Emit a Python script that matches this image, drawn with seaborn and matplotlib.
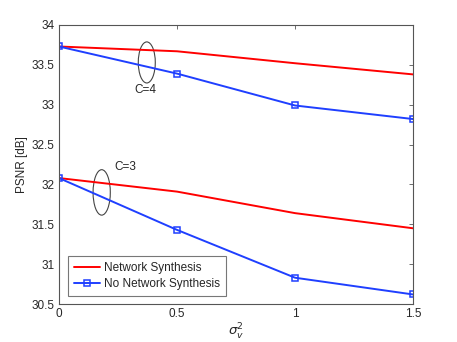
import pandas as pd
import seaborn as sns
import matplotlib.pyplot as plt
from matplotlib.patches import Ellipse

# noise variance on the x axis
sigma2 = [0, 0.5, 1, 1.5]

# PSNR [dB]
c4_synth = [33.73, 33.67, 33.52, 33.38]
c4_nosynth = [33.73, 33.39, 32.99, 32.82]
c3_synth = [32.08, 31.91, 31.64, 31.45]
c3_nosynth = [32.08, 31.43, 30.83, 30.62]

method_names = ["Network Synthesis", "No Network Synthesis"]
y_ticks = [30.5, 31, 31.5, 32, 32.5, 33, 33.5, 34]
x_ticks = [0, 0.5, 1, 1.5]


def main():
    sns.set_style("white")
    plt.rcParams['font.family'] = ['Liberation Sans', 'DejaVu Sans']
    plt.rcParams['mathtext.fontset'] = 'dejavusans'

    fig = plt.figure(figsize=(4.57, 3.42), dpi=100)
    ax = fig.add_axes([0.129, 0.111, 0.775, 0.816])

    red = "#ff0000"
    blue = "#1f3fff"

    # red curves, no markers
    sns.lineplot(x=sigma2, y=c4_synth, ax=ax, color=red, lw=1.4, label=method_names[0])
    sns.lineplot(x=sigma2, y=c3_synth, ax=ax, color=red, lw=1.4)
    # blue curves with open squares
    sns.lineplot(x=sigma2, y=c4_nosynth, ax=ax, color=blue, lw=1.4, marker='s',
                 markersize=4.5, markerfacecolor='none', markeredgecolor=blue,
                 markeredgewidth=1.1, label=method_names[1])
    sns.lineplot(x=sigma2, y=c3_nosynth, ax=ax, color=blue, lw=1.4, marker='s',
                 markersize=4.5, markerfacecolor='none', markeredgecolor=blue,
                 markeredgewidth=1.1)

    # ellipse annotations around curve pairs
    ax.add_patch(Ellipse((0.372, 33.53), 0.072, 0.515, fill=False, ec='#444444', lw=0.8))
    ax.text(0.367, 33.18, "C=4", ha='center', va='center', fontsize=8.5)
    ax.add_patch(Ellipse((0.181, 31.90), 0.073, 0.57, fill=False, ec='#444444', lw=0.8))
    ax.text(0.28, 32.22, "C=3", ha='center', va='center', fontsize=8.5)

    ax.set_xlim(0, 1.5)
    ax.set_ylim(30.5, 34)
    ax.set_xticks(x_ticks)
    ax.set_xticklabels(["0", "0.5", "1", "1.5"])
    ax.set_yticks(y_ticks)
    ax.set_yticklabels(["30.5", "31", "31.5", "32", "32.5", "33", "33.5", "34"])
    ax.tick_params(direction='in', length=3, width=0.6, color='#555555',
                   top=True, right=True, labelsize=8.5, pad=3)
    for s in ax.spines.values():
        s.set_color('#555555')
        s.set_linewidth(0.8)

    ax.set_ylabel("PSNR [dB]", fontsize=8.5, labelpad=3)
    ax.set_xlabel(r"$\sigma_v^2$", fontsize=9.5, labelpad=1)

    leg = ax.legend(loc='lower left', bbox_to_anchor=(0.02, 0.02), fontsize=8.5,
                    frameon=True, fancybox=False, edgecolor='#555555',
                    handlelength=2.2, borderpad=0.5, labelspacing=0.35,
                    handletextpad=0.3, borderaxespad=0.2)
    leg.get_frame().set_linewidth(0.8)

    fig.savefig("out.png", dpi=100)


if __name__ == "__main__":
    main()
